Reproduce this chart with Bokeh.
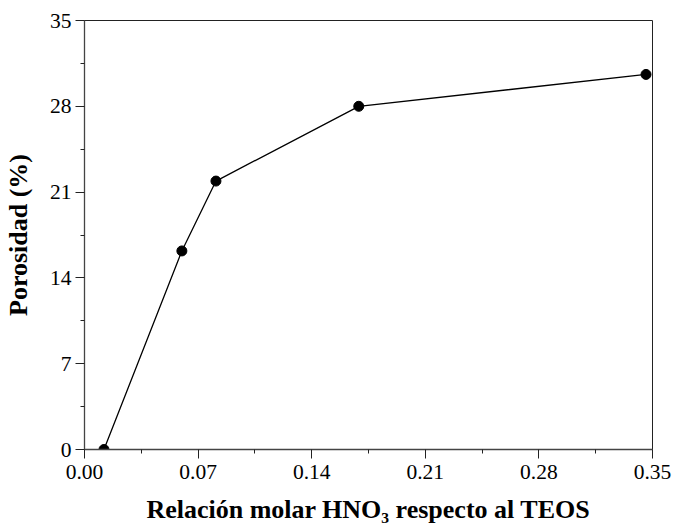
from bokeh.plotting import figure
from bokeh.models import FixedTicker, Range1d, NumeralTickFormatter
from bokeh.embed import file_html
from bokeh.resources import INLINE

# data
hno3_ratio = [0.012, 0.060, 0.081, 0.169, 0.346]
porosity = [0.0, 16.2, 21.9, 28.0, 30.6]
x_ticks = [0.00, 0.07, 0.14, 0.21, 0.28, 0.35]
x_minor = [0.035, 0.105, 0.175, 0.245, 0.315]
y_ticks = [0, 7, 14, 21, 28, 35]
y_minor = [3.5, 10.5, 17.5, 24.5, 31.5]

FONT = "Liberation Serif"

p = figure(width=686, height=528, output_backend="svg", toolbar_location=None,
           x_range=Range1d(0, 0.35), y_range=Range1d(0, 35),
           min_border_left=84, min_border_right=34, min_border_top=20, min_border_bottom=79)
p.xgrid.visible = False
p.ygrid.visible = False
p.outline_line_color = "#222222"
p.outline_line_width = 1
p.background_fill_color = "white"
p.border_fill_color = "white"

p.line(hno3_ratio, porosity, line_color="black", line_width=1.3)
p.scatter(hno3_ratio, porosity, size=10, fill_color="black", line_color="black")

for ax, ticks, minor in ((p.xaxis[0], x_ticks, x_minor), (p.yaxis[0], y_ticks, y_minor)):
    ax.ticker = FixedTicker(ticks=ticks, minor_ticks=minor)
    ax.axis_line_color = "#444444"
    ax.axis_line_width = 1.3
    ax.major_tick_line_color = "#222222"
    ax.minor_tick_line_color = "#222222"
    ax.major_tick_out = 9
    ax.major_tick_in = 0
    ax.minor_tick_out = 4
    ax.minor_tick_in = 0
    ax.major_label_text_font = FONT
    ax.major_label_text_font_size = "21.5px"
    ax.major_label_text_color = "black"
    ax.axis_label_text_font = FONT
    ax.axis_label_text_font_size = "26px"
    ax.axis_label_text_font_style = "bold"
    ax.axis_label_text_color = "black"

p.xaxis[0].major_label_standoff = 6
p.yaxis[0].major_label_standoff = 4
p.xaxis[0].formatter = NumeralTickFormatter(format="0.00")
p.yaxis[0].formatter = NumeralTickFormatter(format="0")
p.xaxis[0].axis_label = "Relación molar HNO₃ respecto al TEOS"
p.xaxis[0].axis_label_standoff = 13
p.yaxis[0].axis_label = "Porosidad (%)"
p.yaxis[0].axis_label_standoff = 14

open("out.html", "w").write(file_html(p, INLINE))
